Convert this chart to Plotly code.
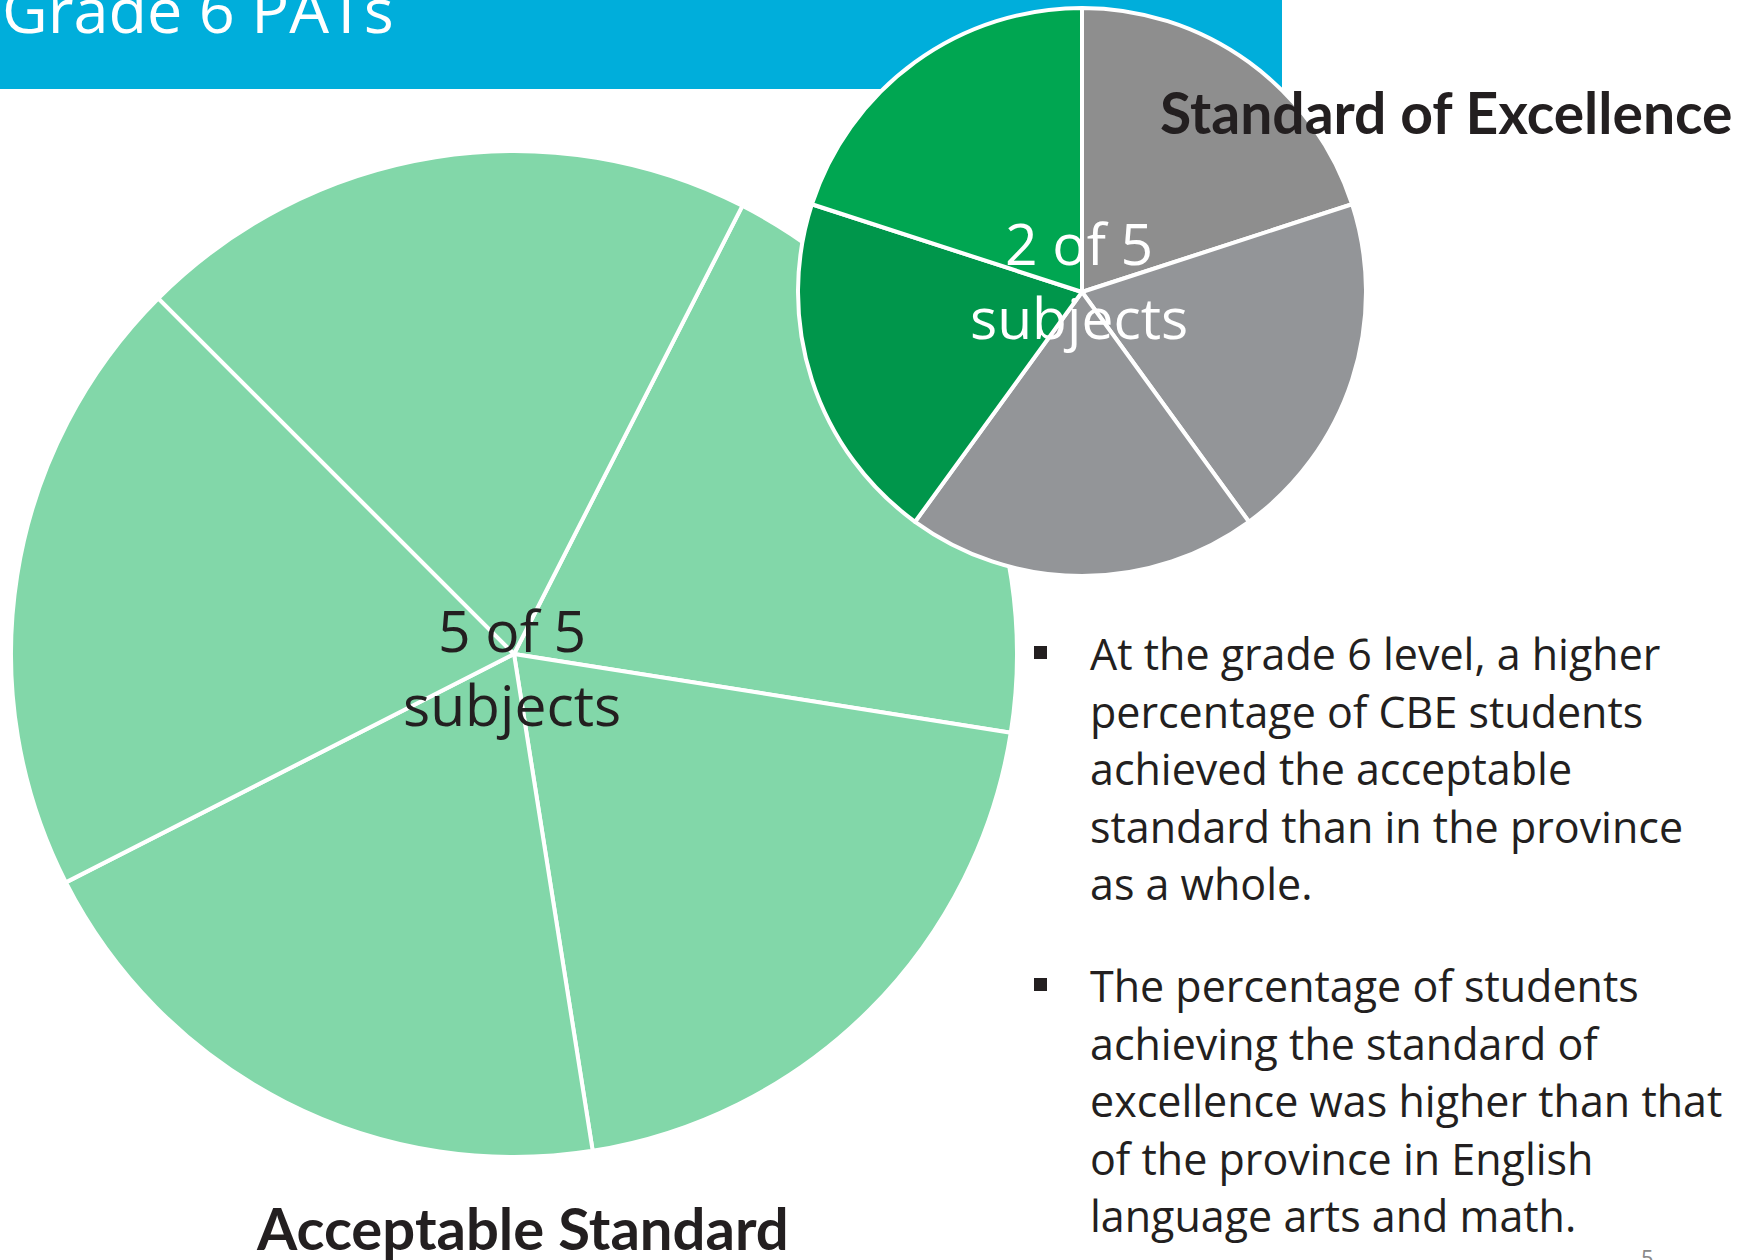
import plotly.graph_objects as go

W, H = 1759, 1260

# ---- data ----
subjects = ["Subject 1", "Subject 2", "Subject 3", "Subject 4", "Subject 5"]
slice_values = [1, 1, 1, 1, 1]
acceptable_met = [1, 1, 1, 1, 1]      # 5 of 5 subjects
excellence_met = [0, 0, 0, 1, 1]      # 2 of 5 subjects

title_text = "Grade 6 PATs"
acceptable_label = "Acceptable Standard"
excellence_label = "Standard of Excellence"
acceptable_center = "5 of 5<br>subjects"
excellence_center = "2 of 5<br>subjects"
bullet_1_lines = ["At the grade 6 level, a higher",
                  "percentage of CBE students",
                  "achieved the acceptable",
                  "standard than in the province",
                  "as a whole."]
bullet_2_lines = ["The percentage of students",
                  "achieving the standard of",
                  "excellence was higher than that",
                  "of the province in English",
                  "language arts and math."]
page_number = "5"

# ---- styles ----
LIGHT_GREEN = "#82d7a9"
GREEN = "#00a651"
DARK_GREEN = "#00964b"
GRAY_A = "#8e8e8e"
GRAY_B = "#939598"
BLUE = "#00aedb"
TEXT = "#231f20"


def px(x):
    return x / W


def py(y):
    return 1 - y / H


acc_colors = [LIGHT_GREEN if m else GRAY_B for m in acceptable_met]
exc_colors = []
for i, m in enumerate(excellence_met):
    if m:
        exc_colors.append(DARK_GREEN if i == 3 else GREEN)
    else:
        exc_colors.append(GRAY_A if i == 0 else GRAY_B)

fig = go.Figure()

# big pie (acceptable standard)
cx, cy, r = 514, 654, 503
fig.add_trace(go.Pie(
    labels=subjects, values=slice_values, sort=False,
    direction="clockwise", rotation=27,
    marker=dict(colors=acc_colors, line=dict(color="white", width=4)),
    textinfo="none", hoverinfo="label", showlegend=False,
    domain=dict(x=[px(cx - r), px(cx + r)], y=[py(cy + r), py(cy - r)]),
))

# small pie (standard of excellence)
cx2, cy2, r2 = 1082, 292, 284
fig.add_trace(go.Pie(
    labels=subjects, values=slice_values, sort=False,
    direction="clockwise", rotation=0,
    marker=dict(colors=exc_colors, line=dict(color="white", width=4)),
    textinfo="none", hoverinfo="label", showlegend=False,
    domain=dict(x=[px(cx2 - r2), px(cx2 + r2)], y=[py(cy2 + r2), py(cy2 - r2)]),
))

shapes = [
    dict(type="rect", xref="paper", yref="paper", layer="below",
         x0=0, x1=px(1282), y0=py(89), y1=py(-5),
         fillcolor=BLUE, line=dict(width=0)),
    dict(type="rect", xref="paper", yref="paper",
         x0=px(1034), x1=px(1047), y0=py(659), y1=py(646),
         fillcolor=TEXT, line=dict(width=0)),
    dict(type="rect", xref="paper", yref="paper",
         x0=px(1034), x1=px(1047), y0=py(991), y1=py(978),
         fillcolor=TEXT, line=dict(width=0)),
]


def ann(text, x, y_top, size, color, family="Open Sans", xanchor="left",
        align="left"):
    return dict(text=text, x=px(x), y=py(y_top), xref="paper", yref="paper",
                xanchor=xanchor, yanchor="top", align=align, showarrow=False,
                borderpad=0, borderwidth=0,
                font=dict(family=family, size=size, color=color))


annotations = [
    ann(title_text, 2, -34, 63, "white"),
    ann("<b>" + excellence_label + "</b>", 1160, 78, 57, TEXT, family="Lato"),
    ann("<b>" + acceptable_label + "</b>", 256, 1193, 58, TEXT, family="Lato"),
    ann(acceptable_center, 512, 591, 57, TEXT, xanchor="center", align="center"),
    ann(excellence_center, 1079, 204, 57, "white", xanchor="center", align="center"),
    ann(page_number, 1647, 1242, 22, "#8a8a8a", xanchor="center"),
]

BODY_SIZE = 43
LINE_STEP = 57.5
ASC = 1.069 * BODY_SIZE
for k, line in enumerate(bullet_1_lines):
    annotations.append(ann(line, 1090, 670 + k * LINE_STEP - ASC, BODY_SIZE, TEXT))
for k, line in enumerate(bullet_2_lines):
    annotations.append(ann(line, 1090, 1002 + k * LINE_STEP - ASC, BODY_SIZE, TEXT))

fig.update_layout(
    width=W, height=H, autosize=False,
    margin=dict(l=0, r=0, t=0, b=0),
    paper_bgcolor="white", plot_bgcolor="white",
    shapes=shapes, annotations=annotations,
)

fig.write_html("out.html",
               config={"displayModeBar": False},
               post_script="document.body.style.margin='0';document.body.style.overflow='hidden';")
